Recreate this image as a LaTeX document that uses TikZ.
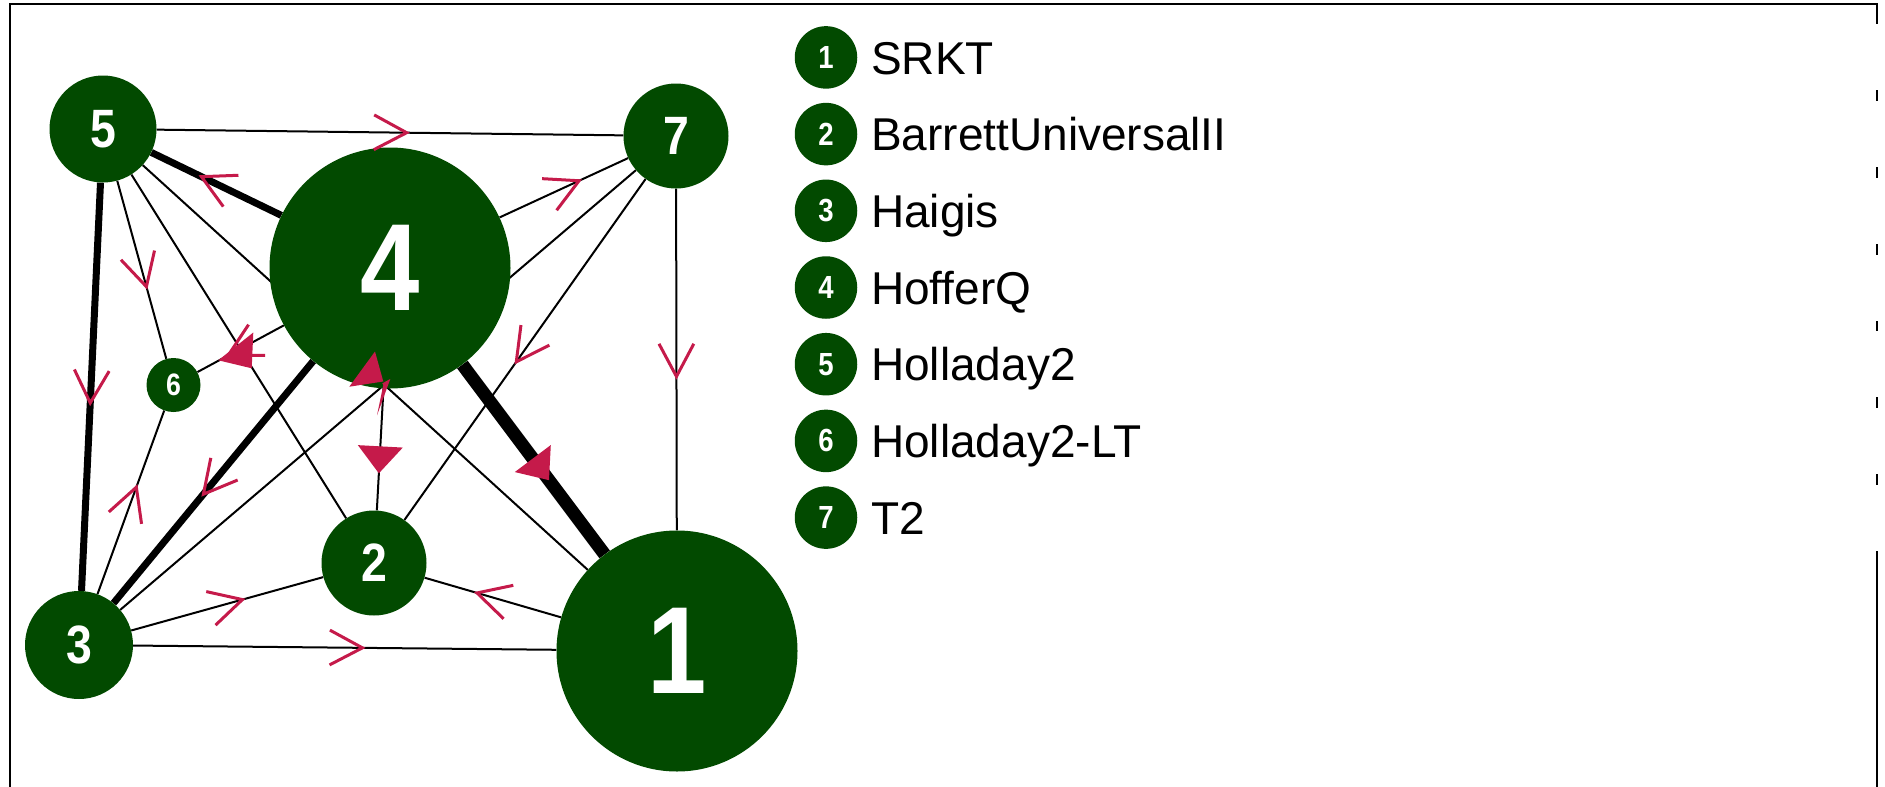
\documentclass[tikz,border=0pt]{standalone}
\usepackage{fontspec}
\setmainfont{Liberation Sans}
\usetikzlibrary{decorations.markings}

\definecolor{nodegreen}{RGB}{2,74,0}
\definecolor{arrowred}{RGB}{197,26,74}

\pgfdeclarelayer{edges}
\pgfsetlayers{edges,main}

% open chevron and filled triangle drawn in the local frame of a marking
\newcommand{\chevmark}{\draw[chevron] (-32.7pt,17.4pt) -- (0pt,0pt) -- (-32.7pt,-17.4pt);}
\newcommand{\trimark}{\fill[arrowred] (0pt,0pt) -- (-27pt,22.5pt) -- (-27pt,-22.5pt) -- cycle;}
% narrow bold digits inside the vertices
\newcommand{\digit}[1]{\scalebox{0.86}[1]{#1}}

\begin{document}
\begin{tikzpicture}[x=1pt,y=-1pt,
  vertex/.style={circle, fill=nodegreen, inner sep=0pt, text=white},
  bignode/.style={vertex, minimum size=241pt, font=\fontsize{124}{124}\selectfont\bfseries},
  midnode/.style={vertex, minimum size=105pt, font=\fontsize{54}{54}\selectfont\bfseries},
  smallnode/.style={vertex, minimum size=54pt, font=\fontsize{31}{31}\selectfont\bfseries},
  keynode/.style={vertex, minimum size=62.5pt, font=\fontsize{32}{32}\selectfont\bfseries},
  keylabel/.style={anchor=west, fill=white, inner xsep=5pt, inner ysep=0pt,
    minimum height=66pt, text height=33.4pt, text depth=0pt,
    text width=1010pt, align=left, font=\fontsize{46}{46}\selectfont},
  frame/.style={draw=black, line width=2.6pt, line join=miter},
  thinedge/.style={draw=black, line width=2pt},
  thickedge/.style={draw=black, line width=7pt},
  heavyedge/.style={draw=black, line width=13pt},
  chevron/.style={draw=arrowred, line width=3pt, line join=miter, line cap=butt},
  markat/.style 2 args={postaction={decorate, decoration={markings,
    mark=at position #1 with {#2}}}}
]
\useasboundingbox (0,0) rectangle (1885,787);

% outer frame
\draw[frame] (10,800) -- (10,4) -- (1877,4) -- (1877,800);

% vertices
\node[bignode] (n1) at (677,651) {\digit{1}};
\node[midnode] (n2) at (374,563) {\digit{2}};
\node[midnode, minimum size=108pt] (n3) at (79,645) {\digit{3}};
\node[bignode] (n4) at (390,268) {\digit{4}};
\node[midnode, minimum size=107pt] (n5) at (103,129) {\digit{5}};
\node[smallnode] (n6) at (173.5,385) {\digit{6}};
\node[midnode] (n7) at (676,136) {\digit{7}};

% connectors, kept behind the vertices
\begin{pgfonlayer}{edges}
\draw[thinedge]  (n5) -- (n7);
\draw[thickedge] (n5) -- (n4);
\draw[thickedge] (n5) -- (n3);
\draw[thinedge]  (n5) -- (n6);
\draw[thinedge]  (n5) -- (n2);
\draw[thinedge]  (n5) -- (n1);
\draw[thinedge]  (n7) -- (n4);
\draw[thinedge]  (n7) -- (n3);
\draw[thinedge]  (n7) -- (n2);
\draw[thinedge]  (n7) -- (n1);
\draw[thinedge]  (n4) -- (n6);
\draw[thickedge] (n4) -- (n3);
\draw[thinedge]  (n4) -- (n2);
\draw[heavyedge] (n4) -- (n1);
\draw[thinedge]  (n2) -- (n3);
\draw[thinedge]  (n2) -- (n1);
\draw[thinedge]  (n3) -- (n6);
\draw[thinedge]  (n3) -- (n1);
\end{pgfonlayer}

% direction marks
\path[markat={0.530}{\chevmark}] (n5.center) -- (n7.center);
\path[markat={0.657}{\chevmark}] (n4.center) -- (n5.center);
\path[markat={0.531}{\chevmark}] (n5.center) -- (n3.center);
\path[markat={0.616}{\chevmark}] (n5.center) -- (n6.center);
\path[markat={0.661}{\chevmark}] (n4.center) -- (n7.center);
\path[markat={0.529}{\chevmark}] (n7.center) -- (n2.center);
\path[markat={0.467}{\chevmark}] (n7.center) -- (n1.center);
\path[markat={0.600}{\chevmark}] (n4.center) -- (n3.center);
\path[markat={0.748}{\chevmark}] (n4.center) -- (n6.center);
\path[markat={0.607}{\chevmark}] (n3.center) -- (n6.center);
\path[markat={0.554}{\chevmark}] (n3.center) -- (n2.center);
\path[markat={0.660}{\chevmark}] (n1.center) -- (n2.center);
\path[markat={0.474}{\chevmark}] (n3.center) -- (n1.center);
\path[markat={0.554}{\trimark}]  (n4.center) -- (n1.center);
\path[markat={0.696}{\trimark}]  (n4.center) -- (n2.center);
\fill[arrowred] (218.3,360.3) -- (253.3,332.5) -- (251.7,368.3) -- cycle;
\fill[arrowred] (375,351.5) -- (349.3,386.7) -- (383.3,381.5) -- cycle;
\fill[arrowred] (382.3,383.3) -- (390.3,379) -- (377,415.3) -- (383.3,385) -- cycle;

% legend
\node[keynode] (k1) at (826,57.4)  {\digit{1}};
\node[keynode] (k2) at (826,134.1) {\digit{2}};
\node[keynode] (k3) at (826,210.8) {\digit{3}};
\node[keynode] (k4) at (826,287.5) {\digit{4}};
\node[keynode] (k5) at (826,364.2) {\digit{5}};
\node[keynode] (k6) at (826,440.9) {\digit{6}};
\node[keynode] (k7) at (826,517.6) {\digit{7}};
\node[keylabel] (l1) at (866,57.4)  {SRKT};
\node[keylabel] (l2) at (866,134.1) {BarrettUniversalII};
\node[keylabel] (l3) at (866,210.8) {Haigis};
\node[keylabel] (l4) at (866,287.5) {HofferQ};
\node[keylabel] (l5) at (866,364.2) {Holladay2};
\node[keylabel] (l6) at (866,440.9) {Holladay2-LT};
\node[keylabel] (l7) at (866,517.6) {T2};
\end{tikzpicture}
\end{document}
